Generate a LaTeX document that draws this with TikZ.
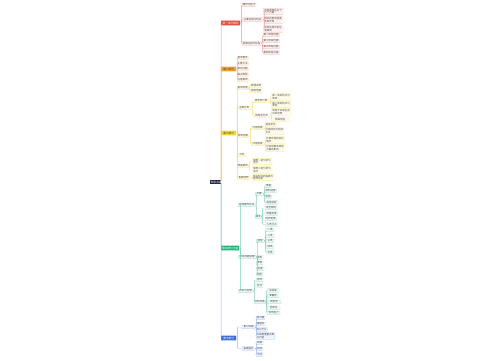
\documentclass[tikz,border=0pt]{standalone}
\usepackage{fontspec}
\newfontfamily\cjk{Noto Sans CJK SC}
\definecolor{redc}{HTML}{E5493C}
\definecolor{orgc}{HTML}{F3A23B}
\definecolor{yelc}{HTML}{F4D63C}
\definecolor{grnc}{HTML}{23B07A}
\definecolor{bluc}{HTML}{3C6ED6}
\definecolor{rootc}{HTML}{1E2A45}
\newcommand\mmlink[3]{\draw[lnk,#1] (#2.east) -- ++(1.2,0) |- (#3.west);}
\tikzset{
  txt/.style={font=\cjk\fontsize{2.5}{2.9}\selectfont, inner sep=0.6pt, anchor=west, align=left, text=black!70, rounded corners=0.3pt, line width=0.2pt},
  rn/.style={txt, draw=redc!45, fill=redc!7},
  on/.style={txt, draw=orgc!50, fill=orgc!8},
  yn/.style={txt, draw=yelc!70, fill=yelc!10},
  gn/.style={txt, draw=grnc!45, fill=grnc!7},
  bn/.style={txt, draw=bluc!45, fill=bluc!7},
  mainbox/.style={font=\cjk\fontsize{2.7}{3}\selectfont, inner sep=0.7pt, anchor=west, minimum height=4.6pt, rounded corners=0.3pt},
  lnk/.style={line width=0.35pt, rounded corners=0.8pt},
  trunk/.style={line width=0.5pt, rounded corners=1pt},
}
\begin{document}
\begin{tikzpicture}[x=1pt,y=-1pt]
\useasboundingbox (0,0) rectangle (500,360);
% root
\node[font=\cjk\fontsize{2.7}{3}\selectfont, fill=rootc, text=white, inner sep=0.7pt, minimum width=11pt, minimum height=4.6pt] (root) at (215,182) {知识点};
% main boxes
\node[mainbox, fill=redc, text=white, minimum width=19pt] (R) at (221,23) {第一部分概述};
\node[mainbox, fill=orgc, text=black!75, minimum width=15pt] (O) at (221,69) {第二部分};
\node[mainbox, fill=yelc, text=black!75, minimum width=15pt] (Y) at (221,133) {第三部分};
\node[mainbox, fill=grnc, text=white, minimum width=18pt] (G) at (221,248) {第四部分内容};
\node[mainbox, fill=bluc, text=white, minimum width=15pt] (B) at (221,338) {第五部分};
\draw[trunk, redc!60] (root.east) -| (R.west);
\draw[trunk, orgc!70] (root.east) -| (O.west);
\draw[trunk, yelc!85] (root.east) -| (Y.west);
\draw[trunk, grnc!60] (root.east) -| (G.west);
\draw[trunk, bluc!55] (root.east) -| (B.west);
% ---------- red branch
\node[rn, minimum width=14pt] (a1) at (242,5) {概念与定义};
\node[rn, minimum width=21pt] (a2) at (242,19.5) {主要内容与特点};
\node[rn, minimum width=19pt] (a3) at (242,43.5) {发展过程与阶段};
\node[rn, minimum width=20pt] (a21) at (263,11.5) {具体表现在以下\\几个方面};
\node[rn, minimum width=20pt] (a22) at (263,20) {相关的影响因素\\及其作用};
\node[rn, minimum width=20pt] (a23) at (263,29) {实际应用中的注\\意事项};
\node[rn, minimum width=16pt] (a31) at (263,35) {第一阶段内容};
\node[rn, minimum width=16pt] (a32) at (263,41) {第二阶段内容};
\node[rn, minimum width=16pt] (a33) at (263,47) {第三阶段内容};
\node[rn, minimum width=16pt] (a34) at (263,52.5) {第四阶段内容};
\foreach \c in {a1,a2,a3} {\mmlink{redc!60}{R}{\c}}
\foreach \c in {a21,a22,a23} {\mmlink{redc!50}{a2}{\c}}
\foreach \c in {a31,a32,a33,a34} {\mmlink{redc!50}{a3}{\c}}
% ---------- orange branch
\node[on, minimum width=11pt] (o1) at (237,58) {基本要求};
\node[on, minimum width=11pt] (o2) at (237,63.5) {主要方法};
\node[on, minimum width=11pt] (o3) at (237,69) {常见问题};
\node[on, minimum width=11pt] (o4) at (237,74.5) {解决措施};
\node[on, minimum width=11pt] (o5) at (237,80) {注意事项};
\foreach \c in {o1,o2,o3,o4,o5} {\mmlink{orgc!70}{O}{\c}}
% ---------- yellow branch
\node[yn, minimum width=11pt] (b1) at (237,88) {基本原理};
\node[yn, minimum width=12pt] (b11) at (250,85.5) {原理说明};
\node[yn, minimum width=12pt] (b12) at (250,91) {适用范围};
\node[yn, minimum width=14pt] (b2) at (237,108) {主要分类};
\node[yn, minimum width=16pt] (c1) at (253,101) {按性质分类};
\node[yn, minimum width=20pt] (c11) at (271,97) {第一类的特点与\\表现};
\node[yn, minimum width=20pt] (c12) at (271,104.5) {第二类的特点与\\表现};
\node[yn, minimum width=17pt] (c2) at (253,115.5) {按用途分类};
\node[yn, minimum width=20pt] (c21) at (271,112) {常用于日常生活\\中的场景};
\node[yn, minimum width=18pt] (c22) at (271,119.5) {特殊用途};
\node[yn, minimum width=12pt] (b3) at (237,136) {影响因素};
\node[yn, minimum width=13pt] (d1) at (251,128) {内部因素};
\node[yn, minimum width=10pt] (d11) at (265,124.5) {自身条件};
\node[yn, minimum width=18pt] (d12) at (265,131) {内部结构与组成\\方式};
\node[yn, minimum width=13pt] (d2) at (251,144) {外部因素};
\node[yn, minimum width=20pt] (d21) at (265,140) {外部环境的变化\\情况};
\node[yn, minimum width=20pt] (d22) at (265,148) {社会因素及其他\\方面的影响};
\node[yn, minimum width=9pt] (b4) at (237,155) {小结};
\node[yn, minimum width=11pt] (b5) at (237,166) {典型案例};
\node[yn, minimum width=20pt] (b51) at (252,161.5) {案例一的分析与\\启示};
\node[yn, minimum width=20pt] (b52) at (252,170) {案例二的分析与\\启示};
\node[yn, minimum width=13pt] (b6) at (237,178) {拓展延伸};
\node[yn, minimum width=22pt] (b61) at (252,177.5) {相关知识的拓展与\\延伸阅读};
\foreach \c in {b1,b2,b3,b4,b5,b6} {\mmlink{yelc!85}{Y}{\c}}
\foreach \c in {b11,b12} {\mmlink{yelc!80}{b1}{\c}}
\foreach \c in {c1,c2} {\mmlink{yelc!80}{b2}{\c}}
\foreach \c in {c11,c12} {\mmlink{yelc!80}{c1}{\c}}
\foreach \c in {c21,c22} {\mmlink{yelc!80}{c2}{\c}}
\foreach \c in {d1,d2} {\mmlink{yelc!80}{b3}{\c}}
\foreach \c in {d11,d12} {\mmlink{yelc!80}{d1}{\c}}
\foreach \c in {d21,d22} {\mmlink{yelc!80}{d2}{\c}}
\foreach \c in {b51,b52} {\mmlink{yelc!80}{b5}{\c}}
\mmlink{yelc!80}{b6}{b61}
% ---------- green branch
\node[gn, minimum width=17pt] (e1) at (238,205) {实践操作方法};
\node[gn, minimum width=8pt] (f1) at (255,194) {步骤};
\node[gn, minimum width=7pt] (f11) at (265,186) {准备};
\node[gn, minimum width=11pt] (f12) at (265,191) {材料选择};
\node[gn, minimum width=6pt] (f13) at (265,196.5) {实施};
\node[gn, minimum width=13pt] (f14) at (265,202.5) {检查验收};
\node[gn, minimum width=6pt] (f2) at (255,216.5) {要求};
\node[gn, minimum width=12pt] (f21) at (265,208) {安全规范};
\node[gn, minimum width=13pt] (f22) at (265,213.5) {质量标准};
\node[gn, minimum width=11pt] (f23) at (265,219) {时间安排};
\node[gn, minimum width=13pt] (f24) at (265,224.5) {人员分工};
\node[gn, minimum width=18pt] (e2) at (238,257) {常见问题处理};
\node[gn, minimum width=8pt] (g1) at (256,241) {类型};
\node[gn, minimum width=8pt] (g11) at (266,230) {一类};
\node[gn, minimum width=8pt] (g12) at (266,235.7) {二类};
\node[gn, minimum width=8pt] (g13) at (266,241) {三类};
\node[gn, minimum width=8pt] (g14) at (266,246.7) {四类};
\node[gn, minimum width=8pt] (g15) at (266,252.3) {五类};
\node[gn, minimum width=7pt] (e22) at (256,257.5) {原因};
\node[gn, minimum width=7pt] (e23) at (256,263) {表现};
\node[gn, minimum width=8pt] (e24) at (256,268.7) {处理};
\node[gn, minimum width=7pt] (e25) at (256,274.3) {预防};
\node[gn, minimum width=15pt] (e3) at (238,291) {评价与反馈};
\node[gn, minimum width=7pt] (e31) at (256,280) {自评};
\node[gn, minimum width=7pt] (e32) at (256,285.5) {互评};
\node[gn, minimum width=11pt] (h1) at (254,302) {评价标准};
\node[gn, minimum width=12pt] (h11) at (267,290.5) {完成度};
\node[gn, minimum width=12pt] (h12) at (267,296) {准确性};
\node[gn, minimum width=14pt] (h13) at (267,302) {规范性};
\node[gn, minimum width=13pt] (h14) at (267,307.7) {创新性};
\node[gn, minimum width=13pt] (h15) at (267,313) {合作能力};
\foreach \c in {e1,e2,e3} {\mmlink{grnc!60}{G}{\c}}
\foreach \c in {f1,f2} {\mmlink{grnc!55}{e1}{\c}}
\foreach \c in {f11,f12,f13,f14} {\mmlink{grnc!55}{f1}{\c}}
\foreach \c in {f21,f22,f23,f24} {\mmlink{grnc!55}{f2}{\c}}
\foreach \c in {g1,e22,e23,e24,e25} {\mmlink{grnc!55}{e2}{\c}}
\foreach \c in {g11,g12,g13,g14,g15} {\mmlink{grnc!55}{g1}{\c}}
\foreach \c in {e31,e32,h1} {\mmlink{grnc!55}{e3}{\c}}
\foreach \c in {h11,h12,h13,h14,h15} {\mmlink{grnc!55}{h1}{\c}}
% ---------- blue branch
\node[bn, minimum width=13pt] (i1) at (242,327) {复习巩固};
\node[bn, minimum width=9pt] (i11) at (256,318) {练习题};
\node[bn, minimum width=9pt] (i12) at (256,324) {错题本};
\node[bn, minimum width=11pt] (i13) at (256,329.5) {知识卡片};
\node[bn, minimum width=17pt] (i14) at (256,336) {归纳整理重点难\\点内容};
\node[bn, minimum width=13pt] (i2) at (242,348.5) {拓展提升};
\node[bn, minimum width=7pt] (i21) at (256,343) {阅读};
\node[bn, minimum width=7pt] (i22) at (256,349) {实践};
\node[bn, minimum width=7pt] (i23) at (256,354.5) {交流};
\foreach \c in {i1,i2} {\mmlink{bluc!55}{B}{\c}}
\foreach \c in {i11,i12,i13,i14} {\mmlink{bluc!50}{i1}{\c}}
\foreach \c in {i21,i22,i23} {\mmlink{bluc!50}{i2}{\c}}
\end{tikzpicture}
\end{document}
